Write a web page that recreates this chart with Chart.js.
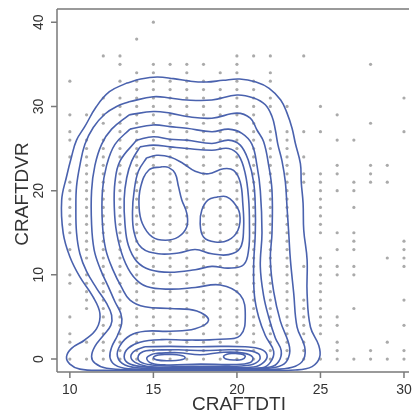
<!DOCTYPE html>
<html>
<head>
<meta charset="utf-8">
<script src="https://cdn.jsdelivr.net/npm/chart.js@4.4.1/dist/chart.umd.min.js"></script>
<style>
  html, body { margin: 0; padding: 0; background: #fff; }
  #wrap { width: 413px; height: 415px; }
</style>
</head>
<body>
<div id="wrap"><canvas id="kde"></canvas></div>
<script>
// ejes
const xTicks = [10, 15, 20, 25, 30];
const yTicks = [0, 10, 20, 30, 40];
const xTitle = 'CRAFTDTI';
const yTitle = 'CRAFTDVR';

// puntos observados: una columna por valor de CRAFTDTI
const colX = [10, 11, 12, 13, 14, 15, 16, 17, 18, 19, 20, 21, 22, 23, 24, 25, 26, 27, 28, 29, 30];
const colY = [
  [0, 2, 3, 5, 9, 10, 13, 15, 16, 17, 18, 19, 20, 21, 24, 26, 27, 29, 33],
  [0, 2, 6, 7, 8, 9, 10, 12, 13, 14, 15, 16, 17, 18, 19, 20, 21, 22, 23, 24, 25, 26, 29],
  [0, 1, 2, 3, 4, 5, 6, 7, 8, 9, 10, 11, 12, 13, 14, 15, 16, 17, 18, 19, 20, 21, 22, 23, 24, 25, 26, 28, 29, 31, 36],
  [0, 1, 2, 3, 4, 5, 6, 7, 8, 9, 10, 11, 12, 13, 14, 15, 16, 17, 18, 19, 20, 21, 22, 23, 24, 25, 26, 27, 28, 29, 30, 31, 33, 35, 36],
  [0, 1, 2, 3, 4, 5, 6, 7, 8, 9, 10, 11, 12, 13, 14, 15, 16, 17, 18, 19, 20, 21, 22, 23, 24, 25, 26, 27, 28, 29, 30, 31, 32, 33, 34, 38],
  [0, 1, 2, 3, 4, 5, 6, 7, 8, 9, 10, 11, 12, 13, 14, 15, 16, 17, 18, 19, 20, 21, 22, 23, 24, 25, 26, 27, 28, 29, 30, 31, 32, 33, 34, 35, 40],
  [0, 1, 2, 3, 4, 5, 6, 7, 8, 9, 10, 11, 12, 13, 14, 15, 16, 17, 18, 19, 20, 21, 22, 23, 24, 25, 26, 27, 28, 29, 30, 31, 32, 33, 35],
  [0, 1, 2, 3, 4, 5, 6, 7, 8, 9, 10, 11, 12, 13, 14, 15, 16, 17, 18, 19, 20, 21, 22, 23, 24, 25, 26, 27, 28, 29, 30, 31, 32, 33, 34, 35],
  [0, 1, 2, 3, 4, 5, 6, 7, 8, 9, 10, 11, 12, 13, 14, 15, 16, 17, 18, 19, 20, 21, 22, 23, 24, 25, 26, 27, 28, 29, 30, 31, 32, 33, 35],
  [0, 1, 2, 3, 4, 5, 6, 7, 8, 9, 10, 11, 12, 13, 14, 15, 16, 17, 18, 19, 20, 21, 22, 23, 24, 25, 26, 27, 28, 29, 30, 31, 32, 34],
  [0, 1, 2, 3, 4, 5, 6, 7, 8, 9, 10, 11, 12, 13, 14, 15, 16, 17, 18, 19, 20, 21, 22, 23, 24, 25, 26, 27, 28, 29, 30, 31, 32, 33, 34, 35, 36],
  [0, 1, 2, 3, 4, 5, 6, 7, 8, 9, 10, 11, 12, 13, 14, 15, 16, 17, 18, 19, 20, 21, 22, 23, 24, 25, 26, 27, 28, 29, 30, 31, 32, 33, 36],
  [0, 1, 2, 3, 4, 5, 6, 7, 8, 9, 10, 11, 12, 13, 14, 15, 16, 17, 18, 19, 20, 21, 22, 23, 24, 25, 26, 27, 30, 31, 33, 34, 36],
  [0, 1, 2, 3, 4, 5, 6, 7, 8, 9, 10, 11, 12, 13, 14, 15, 16, 17, 18, 19, 20, 21, 22, 23, 24, 25, 26, 27, 30],
  [0, 1, 2, 3, 4, 5, 6, 7, 11, 21, 22, 24, 27, 36],
  [0, 3, 4, 5, 6, 7, 8, 9, 10, 11, 12, 15, 16, 17, 18, 19, 20, 21, 22, 27, 30],
  [0, 1, 2, 4, 5, 10, 11, 13, 15, 20, 22, 23, 26, 29],
  [0, 6, 10, 11, 13, 14, 15, 18, 20, 21, 26],
  [0, 1, 21, 22, 23, 28, 35],
  [0, 2, 12, 21, 23],
  [0, 1, 4, 7, 11, 12, 13, 14, 27, 31]
];

// curvas de nivel (x, y)
const contour1 = [[13.36,32.74],[14.24,33.25],[15.22,33.5],[16.2,33.3],[17.2,33.0],[18.18,32.9],[19.17,33.1],[20.16,33.25],[21.14,32.9],[21.93,32.15],[22.62,30.76],[23.0,29.2],[23.3,27.4],[23.5,25.6],[23.8,23.2],[23.85,21.0],[23.96,18.5],[24.0,15.3],[24.2,11.8],[24.2,7.8],[24.4,3.8],[24.9,1.6],[24.95,0.2],[24.5,-0.9],[23.5,-1.3],[21,-1.35],[18,-1.35],[15,-1.35],[12,-1.35],[10.6,-1.2],[10.0,-0.6],[9.8,0.27],[10.1,1.27],[10.89,2.26],[11.6,3.6],[11.8,5.4],[11.38,7.4],[10.59,9.78],[10.0,12.15],[9.6,14.96],[9.51,18.88],[9.8,21.65],[10.1,24.03],[10.4,26.0],[10.89,27.59],[11.58,29.96],[12.37,31.75],[13.36,32.74]];
const contour2 = [[13.55,30.56],[15,31.15],[16,31.0],[17,30.76],[18.5,30.76],[20,31.35],[21.0,31.0],[21.7,30.2],[22.1,28.8],[22.3,27.2],[22.45,25.5],[22.7,23.5],[22.9,21],[23.0,18],[23.1,15],[23.2,11.8],[23.4,7.8],[23.6,3.8],[24.05,1.5],[24.0,0],[23.5,-0.85],[22.5,-1.2],[20,-1.25],[17,-1.25],[14,-1.25],[12.2,-1.1],[11.5,-0.5],[11.3,0.3],[11.5,1.5],[12.0,2.8],[12.45,4.0],[12.5,5.2],[12.2,6.6],[11.6,8.4],[11.0,10.4],[10.6,12.5],[10.4,15],[10.36,18],[10.4,20.5],[10.6,23],[10.9,25.5],[11.4,27.5],[12.1,29.1],[12.8,30.0],[13.55,30.56]];
const contour3 = [[13.55,29.0],[15,29.4],[16,29.2],[17,28.8],[18.5,28.6],[20,29.2],[20.8,28.6],[21.2,27.2],[21.6,25.8],[21.9,23],[22.1,20],[22.1,15],[22.0,11.8],[22.2,8],[22.6,4.5],[23.15,1.4],[23.0,-0.2],[22.5,-0.9],[21.5,-1.15],[19,-1.2],[16,-1.2],[13.5,-1.15],[12.7,-0.7],[12.4,0.2],[12.5,1.4],[12.85,2.8],[13.1,4.2],[13.05,5.4],[12.7,6.8],[12.3,8.6],[11.8,10.8],[11.45,13],[11.3,16],[11.3,20],[11.5,23],[11.9,25.5],[12.5,27.3],[13.55,29.0]];
const contour4 = [[13.6,27.3],[15,27.8],[16,27.6],[17,27.4],[18.5,27.0],[19.5,27.3],[20.3,26.8],[20.9,25.5],[21.2,23],[21.4,20],[21.5,15],[21.4,11],[21.6,7.5],[21.9,5],[22.3,2.5],[22.65,1.0],[22.5,-0.3],[22.0,-0.95],[20,-1.15],[17,-1.15],[14.5,-1.1],[13.3,-0.7],[12.85,0.3],[13.0,1.6],[13.6,2.8],[14.5,3.3],[16,3.3],[17.5,3.6],[18.3,4.6],[17.6,5.7],[16,6.0],[14.5,6.2],[13.6,7.0],[13.1,8.5],[12.6,10.5],[12.15,13],[11.95,16],[11.95,20],[12.2,23],[12.7,25.5],[13.6,27.3]];
const contour5 = [[14,26.0],[15,26.4],[16,26.1],[17,26.0],[18.5,25.6],[19.5,26.0],[20.2,25.4],[20.7,23.5],[21.0,21],[21.1,18],[21.1,15],[21.0,11],[21.05,7.5],[21.3,5],[21.7,2.8],[22.2,0.9],[22.0,-0.4],[21.5,-1.05],[19,-1.1],[16,-1.1],[14.3,-0.9],[13.5,-0.5],[13.25,0.3],[13.5,1.3],[14.2,2.0],[15.5,2.3],[17,2.25],[19,2.35],[20.2,2.8],[20.5,5.2],[20.2,7.6],[19,8.8],[17.5,8.5],[16,8.3],[14.6,8.6],[13.8,9.8],[13.2,12],[12.8,15],[12.66,18],[12.7,21],[13.0,23.5],[14,26.0]];
const contour6a = [[14.2,25.2],[15,25.4],[16,25.2],[17,25.0],[18.5,24.8],[19.5,25.0],[20.1,24.2],[20.5,22],[20.7,19],[20.75,16],[20.7,13],[20.4,11.2],[19.5,10.8],[18.5,11.0],[17.5,10.6],[16,10.3],[14.8,10.6],[14.0,11.6],[13.5,13.5],[13.3,16],[13.25,19],[13.4,21.5],[13.7,23.5],[14.2,25.2]];
const contour6b = [[14.5,1.46],[16,1.5],[17.5,1.45],[19,1.5],[20.5,1.45],[21.4,1.2],[21.8,0.5],[21.6,-0.4],[21.0,-0.95],[19,-1.0],[16,-1.0],[14.6,-0.85],[13.9,-0.4],[13.65,0.3],[13.9,1.0],[14.5,1.46]];
const contour7a = [[14.6,23.9],[15.2,24.2],[16,24.0],[16.8,23.2],[17.5,22.3],[18.3,22.0],[19.2,22.6],[19.8,22.4],[20.2,21],[20.35,18.5],[20.4,15.5],[20.2,13.2],[19.5,12.4],[18.5,12.5],[17.5,13.0],[16.5,12.6],[15.3,12.5],[14.3,13.2],[13.85,15],[13.75,17.5],[13.85,20],[14.1,22.3],[14.6,23.9]];
const contour7b = [[15,1.07],[16.5,1.1],[18,1.0],[19.5,1.1],[20.7,1.0],[21.3,0.6],[21.35,-0.1],[20.8,-0.7],[19,-0.85],[16.5,-0.85],[14.9,-0.7],[14.2,-0.3],[14.1,0.4],[14.4,0.9],[15,1.07]];
const contour8a = [[15.52,22.84],[15.9,22.76],[16.3,22.05],[16.5,20.5],[16.7,18.9],[17.0,17.3],[17.0,15.7],[16.5,14.5],[15.72,14.1],[14.93,14.5],[14.34,16.1],[14.14,18.1],[14.24,20.46],[14.73,22.45],[15.52,22.84]];
const contour8b = [[18.88,19.28],[19.37,19.28],[19.76,18.7],[20.16,17.3],[20.06,15.3],[19.47,14.1],[18.7,13.9],[18.0,14.5],[17.8,16.1],[17.9,17.7],[18.28,18.9],[18.88,19.28]];
const contour8c = [[15.3,0.7],[16.5,0.75],[17.8,0.5],[19.2,0.8],[20.4,0.7],[20.95,0.2],[20.8,-0.4],[19.8,-0.65],[17.8,-0.6],[15.8,-0.7],[14.9,-0.5],[14.6,0.1],[14.9,0.55],[15.3,0.7]];
const contour9a = [[15.9,0.56],[16.6,0.45],[16.9,0.18],[16.6,-0.12],[15.9,-0.2],[15.2,-0.1],[15.0,0.18],[15.3,0.48],[15.9,0.56]];
const contour9b = [[19.85,0.68],[20.35,0.55],[20.5,0.28],[20.3,-0.05],[19.85,-0.12],[19.4,-0.02],[19.2,0.28],[19.4,0.58],[19.85,0.68]];

const contours = [contour1, contour2, contour3, contour4, contour5, contour6a, contour6b,
  contour7a, contour7b, contour8a, contour8b, contour8c, contour9a, contour9b];

const BLUE = '#4a62ae';
const GREY = '#aaaaaa';
const AXIS = '#7a7a7a';
const FONT = '"Liberation Sans", Arial, Helvetica, sans-serif';

const points = [];
colX.forEach((x, i) => colY[i].forEach(y => points.push({ x: x, y: y })));

const datasets = contours.map(c => ({
  data: c.map(p => ({ x: p[0], y: p[1] })),
  showLine: true,
  borderColor: BLUE,
  borderWidth: 1.6,
  pointRadius: 0,
  tension: 0.4,
  fill: false
}));
datasets.push({
  data: points,
  showLine: false,
  pointRadius: 1.6,
  pointBackgroundColor: GREY,
  pointBorderWidth: 0
});

// ejes dibujados a mano, con las posiciones que da cada escala
const axesPlugin = {
  id: 'axesPlugin',
  afterDraw(chart) {
    const ctx = chart.ctx;
    const a = chart.chartArea;
    const xs = chart.scales.x, ys = chart.scales.y;
    ctx.save();
    ctx.strokeStyle = AXIS;
    ctx.lineWidth = 1.5;
    ctx.beginPath();
    ctx.moveTo(a.left, a.top); ctx.lineTo(a.right, a.top);
    ctx.moveTo(a.left, a.top); ctx.lineTo(a.left, a.bottom);
    ctx.moveTo(a.left, a.bottom); ctx.lineTo(a.right, a.bottom);
    yTicks.forEach(v => {
      const py = ys.getPixelForValue(v);
      ctx.moveTo(a.left - 6, py); ctx.lineTo(a.left, py);
    });
    xTicks.forEach(v => {
      const px = xs.getPixelForValue(v);
      ctx.moveTo(px, a.bottom); ctx.lineTo(px, a.bottom + 6);
    });
    ctx.stroke();

    ctx.fillStyle = '#333';
    ctx.font = '14px ' + FONT;
    ctx.textAlign = 'center';
    ctx.textBaseline = 'middle';
    xTicks.forEach(v => ctx.fillText(String(v), xs.getPixelForValue(v), a.bottom + 18));
    yTicks.forEach(v => {
      ctx.save();
      ctx.translate(a.left - 18, ys.getPixelForValue(v));
      ctx.rotate(-Math.PI / 2);
      ctx.fillText(String(v), 0, 0);
      ctx.restore();
    });

    ctx.font = '19px ' + FONT;
    ctx.fillText(xTitle, 239, a.bottom + 33);
    ctx.save();
    ctx.translate(23, 194);
    ctx.rotate(-Math.PI / 2);
    ctx.fillText(yTitle, 0, 0);
    ctx.restore();
    ctx.restore();
  }
};

new Chart(document.getElementById('kde'), {
  type: 'scatter',
  data: { datasets: datasets },
  options: {
    responsive: true,
    maintainAspectRatio: false,
    devicePixelRatio: 1,
    animation: false,
    events: [],
    layout: { padding: { top: 9, right: 0, left: 0, bottom: 0 } },
    plugins: { legend: { display: false }, tooltip: { enabled: false } },
    scales: {
      x: {
        type: 'linear', min: 9.23, max: 30.3,
        grid: { display: false }, border: { display: false },
        ticks: { display: false },
        afterFit: s => { s.height = 43; }
      },
      y: {
        type: 'linear', min: -1.54, max: 41.57,
        grid: { display: false }, border: { display: false },
        ticks: { display: false },
        afterFit: s => { s.width = 57; }
      }
    }
  },
  plugins: [axesPlugin]
});
</script>
</body>
</html>
